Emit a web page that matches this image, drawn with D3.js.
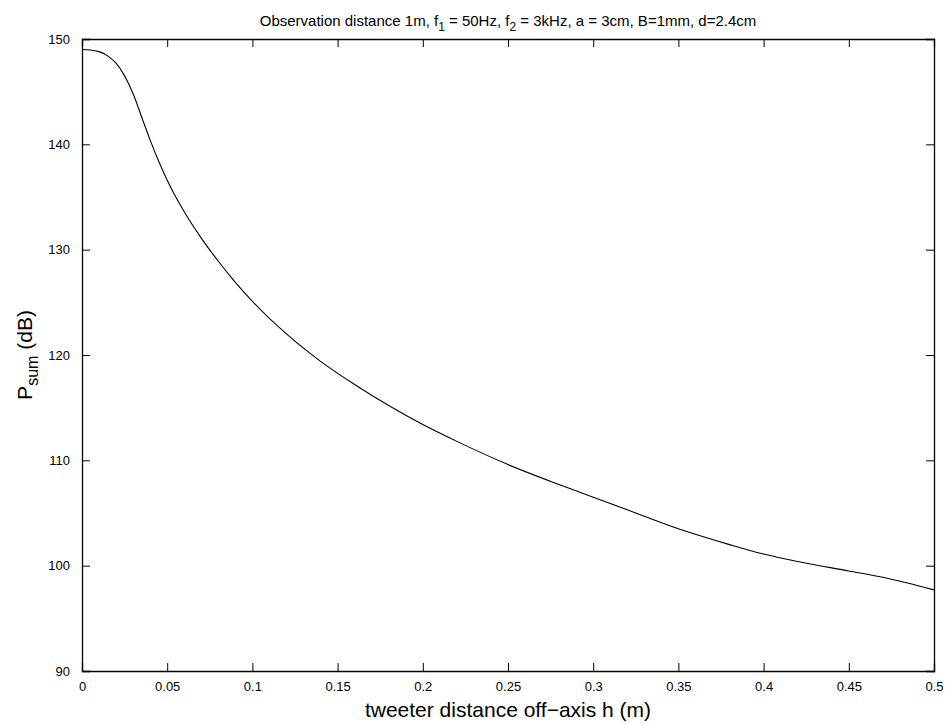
<!DOCTYPE html>
<html>
<head>
<meta charset="utf-8">
<script src="https://cdn.jsdelivr.net/npm/d3@7"></script>
<style>
  body { margin: 0; background: #fff; }
  text { font-family: "Liberation Sans", Arial, sans-serif; fill: #000; }
</style>
</head>
<body>
<div id="chart"></div>
<script>
// data
let hValues = [0, 0.005, 0.01, 0.015, 0.02, 0.025, 0.03, 0.035, 0.04, 0.045, 0.05, 0.06, 0.07, 0.08, 0.09, 0.1,
               0.12, 0.14, 0.16, 0.18, 0.2, 0.22, 0.25, 0.28, 0.3, 0.32, 0.35, 0.38, 0.4, 0.42, 0.45, 0.47, 0.5];
let psumValues = [149.0, 148.95, 148.8, 148.4, 147.7, 146.5, 144.8, 142.6, 140.4, 138.4, 136.6, 133.6, 131.1, 128.9, 126.9, 125.1,
                  122.0, 119.4, 117.2, 115.2, 113.4, 111.8, 109.6, 107.7, 106.5, 105.3, 103.5, 102.0, 101.1, 100.4, 99.5, 98.9, 97.7];
let xTicks = [0, 0.05, 0.1, 0.15, 0.2, 0.25, 0.3, 0.35, 0.4, 0.45, 0.5];
let yTicks = [90, 100, 110, 120, 130, 140, 150];

let width = 945, height = 725;
let margin = {top: 39, right: 11, bottom: 54, left: 82};
let iw = width - margin.left - margin.right,
    ih = height - margin.top - margin.bottom;

let svg = d3.select("#chart").append("svg")
            .attr("width", width)
            .attr("height", height);

let g = svg.append("g")
           .attr("transform", "translate(" + margin.left + "," + margin.top + ")");

let x = d3.scaleLinear().domain([0, 0.5]).range([0, iw]);
let y = d3.scaleLinear().domain([90, 150]).range([ih, 0]);

// axes, matlab style: ticks inside, box all round
let tickLen = 8;
let fmt = d => String(d);

let xb = g.append("g").attr("transform", "translate(0," + ih + ")")
          .call(d3.axisBottom(x).tickValues(xTicks).tickSize(-tickLen).tickPadding(tickLen + 3).tickFormat(fmt));
let xt = g.append("g")
          .call(d3.axisTop(x).tickValues(xTicks).tickSize(-tickLen).tickFormat(""));
let yl = g.append("g")
          .call(d3.axisLeft(y).tickValues(yTicks).tickSize(-tickLen).tickPadding(tickLen + 4).tickFormat(fmt));
let yr = g.append("g").attr("transform", "translate(" + iw + ",0)")
          .call(d3.axisRight(y).tickValues(yTicks).tickSize(-tickLen).tickFormat(""));

[xb, xt, yl, yr].forEach(a => {
  a.select(".domain").attr("stroke", "#000").attr("stroke-width", 1.3);
  a.selectAll(".tick line").attr("stroke", "#000").attr("stroke-width", 1);
  a.selectAll(".tick text").attr("font-size", 13).style("font-family", "Liberation Sans, Arial, sans-serif").attr("fill", "#333");
});

// the curve
let line = d3.line()
             .x((d, i) => x(hValues[i]))
             .y(d => y(d))
             .curve(d3.curveMonotoneX);

g.append("path")
 .datum(psumValues)
 .attr("fill", "none")
 .attr("stroke", "#000")
 .attr("stroke-width", 1.1)
 .attr("d", line);

// title with subscripts
let title = svg.append("text")
               .attr("x", margin.left + iw / 2)
               .attr("y", 26)
               .attr("text-anchor", "middle")
               .attr("font-size", 15);
title.append("tspan").text("Observation distance 1m, f");
title.append("tspan").attr("dy", 5).attr("font-size", 12).text("1");
title.append("tspan").attr("dy", -5).text(" = 50Hz, f");
title.append("tspan").attr("dy", 5).attr("font-size", 12).text("2");
title.append("tspan").attr("dy", -5).text(" = 3kHz, a = 3cm, B=1mm, d=2.4cm");

// x label
svg.append("text")
   .attr("x", margin.left + iw / 2)
   .attr("y", 717)
   .attr("text-anchor", "middle")
   .attr("font-size", 21)
   .text("tweeter distance off\u2212axis h (m)");

// y label
let ylab = svg.append("text")
              .attr("transform", "translate(32," + (margin.top + ih / 2) + ") rotate(-90)")
              .attr("text-anchor", "middle")
              .attr("font-size", 21);
ylab.append("tspan").text("P");
ylab.append("tspan").attr("dy", 6).attr("font-size", 16).text("sum");
ylab.append("tspan").attr("dy", -6).text(" (dB)");
</script>
</body>
</html>
